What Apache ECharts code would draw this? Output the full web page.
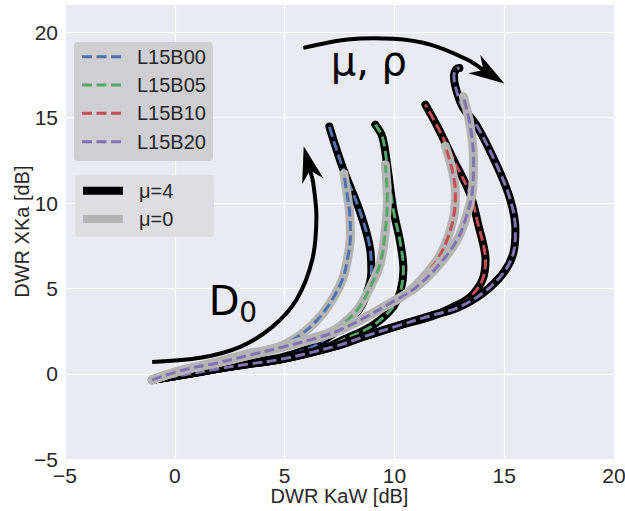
<!DOCTYPE html>
<html><head><meta charset="utf-8">
<script src="https://cdn.jsdelivr.net/npm/echarts@6/dist/echarts.min.js"></script>
<style>html,body{margin:0;padding:0;background:#fff}#c{width:625px;height:511px}</style>
</head><body><div id="c"></div>
<script>
// ---- axes / ticks ----
const xTicks = [-5, 0, 5, 10, 15, 20];
const yTicks = [-5, 0, 5, 10, 15, 20];
const xRange = [-5, 20];
const yRange = [-5, 21.65];

// ---- series names / colours ----
const names = ['L15B00', 'L15B05', 'L15B10', 'L15B20'];
const colors = ['#4C72B0', '#55A868', '#C44E52', '#8172B2'];

// ---- mu = 4 curves (black) ----
const mu4_B00 = [[-1.03,-0.35],[0.39,-0.06],[1.94,0.29],[3.44,0.64],[4.94,1.00],[6.17,1.52],[7.08,2.23],[7.77,2.87],[8.36,3.69],[8.72,4.63],[8.95,5.92],[8.90,7.26],[8.45,9.43],[7.68,11.95],[7.22,13.71],[7.04,14.47]];
const mu4_B05 = [[-1.03,-0.35],[0.39,-0.06],[1.94,0.29],[3.12,0.53],[4.94,0.88],[6.63,1.41],[7.86,2.11],[8.68,2.58],[9.36,3.16],[9.95,3.93],[10.27,4.80],[10.41,6.09],[10.27,7.67],[9.95,9.61],[9.68,12.13],[9.45,13.88],[9.13,14.59]];
const mu4_B10 = [[-1.03,-0.35],[0.39,-0.06],[1.94,0.29],[3.12,0.53],[4.94,0.88],[7.54,1.70],[8.59,2.17],[10.14,2.81],[11.64,3.34],[12.78,3.98],[13.46,4.51],[14.01,5.51],[14.15,6.68],[14.05,7.56],[13.83,8.67],[13.46,10.49],[12.69,12.54],[11.96,14.47],[11.41,15.76]];
const mu4_B20 = [[-1.03,-0.35],[0.39,-0.06],[1.94,0.29],[3.12,0.53],[4.94,0.88],[7.54,1.70],[8.59,2.17],[10.14,2.81],[11.64,3.40],[12.87,3.87],[14.05,4.75],[14.97,5.92],[15.42,7.09],[15.51,8.44],[15.28,10.19],[14.69,12.13],[13.78,14.47],[13.10,15.64],[12.78,16.81],[12.71,17.46],[12.82,17.84],[12.96,17.90]];

// ---- mu = 0 curves (grey) ----
const mu0_B00 = [[-1.03,-0.35],[0.39,0.23],[1.94,0.70],[3.30,1.17],[4.67,1.55],[5.72,2.28],[6.49,3.16],[7.08,4.16],[7.63,5.51],[7.86,6.68],[8.00,8.14],[7.95,9.61],[7.81,10.78],[7.70,11.72]];
const mu0_B05 = [[-1.03,-0.35],[0.39,0.23],[1.94,0.66],[3.44,1.14],[4.94,1.62],[6.17,2.05],[7.08,2.45],[7.54,2.80],[8.31,3.75],[8.91,5.10],[9.36,6.50],[9.59,8.44],[9.68,10.19],[9.59,12.24]];
const mu0_B10 = [[-1.03,-0.35],[0.39,0.23],[1.94,0.64],[3.44,1.11],[4.94,1.58],[6.49,2.11],[7.54,2.58],[8.60,3.26],[9.82,4.14],[10.60,4.75],[11.18,5.45],[11.95,6.68],[12.40,7.85],[12.70,9.21],[12.78,10.59],[12.63,11.95],[12.32,13.32]];
const mu0_B20 = [[-1.03,-0.35],[0.39,0.23],[1.94,0.64],[3.44,1.11],[4.94,1.58],[6.49,2.11],[7.54,2.58],[8.60,3.26],[9.82,4.14],[11.03,5.11],[12.10,6.49],[12.86,7.85],[13.23,9.02],[13.54,10.60],[13.60,12.54],[13.46,14.47],[13.14,16.23]];

// ---- annotations (data coordinates) ----
const arrowD0 = { shaft: [[-1.03,0.70],[1.16,0.94],[2.98,1.58],[4.44,2.75],[5.54,4.34],[6.26,6.68],[6.45,9.20],[6.30,11.2]], tip: [5.87,13.32] };
const arrowMuRho = { shaft: [[5.85,19.08],[7.86,19.57],[9.95,19.61],[11.64,19.27],[13.33,18.39]], tip: [15.01,16.99] };
const labelMuRho = { text: 'μ, ρ', pos: [7.1, 18.3], size: 40 };
const labelD = { text: 'D', pos: [1.55, 4.28], size: 40 };
const labelD0 = { text: '0', pos: [2.93, 3.60], size: 28 };

const FONT = "'Liberation Sans', Arial, sans-serif";
const MATHFONT = "'DejaVu Sans', sans-serif";
const INK = '#262626';
const GREY = '#B4B4B4';

const mu4 = [mu4_B00, mu4_B05, mu4_B10, mu4_B20];
const mu0 = [mu0_B00, mu0_B05, mu0_B10, mu0_B20];

function lineSeries(name, data, color, width, dashed, cap) {
  return {
    type: 'line', name: name, data: data, smooth: 0.35, showSymbol: false, symbol: 'none',
    silent: true, animation: false,
    lineStyle: { color: color, width: width, type: dashed ? [10, 4.5] : 'solid', cap: cap }
  };
}
const series = [];
for (let i = 0; i < 4; i++) {
  series.push(lineSeries('μ=4', mu4[i], '#000', 8, false, 'round'));
  series.push(lineSeries(names[i], mu4[i], colors[i], 3, true, 'butt'));
}
for (let i = 0; i < 4; i++) {
  series.push(lineSeries('μ=0', mu0[i], GREY, 9, false, 'round'));
  series.push(lineSeries(names[i], mu0[i], colors[i], 3, true, 'butt'));
}

const arrows = [arrowD0, arrowMuRho];
const labels = [labelMuRho, labelD, labelD0];

series.push({
  type: 'custom', silent: true, animation: false, z: 5,
  data: [[0], [1]],
  encode: { x: -1, y: -1 },
  renderItem: function (params, api) {
    const a = arrows[api.value(0)];
    const pts = a.shaft.map(p => api.coord(p));
    const tip = api.coord(a.tip);
    const last = pts[pts.length - 1];
    let dx = tip[0] - last[0], dy = tip[1] - last[1];
    const L = Math.hypot(dx, dy); dx /= L; dy /= L;
    const hl = 36, hw = 11, notch = 25;
    const nx = -dy, ny = dx;
    const base = [tip[0] - dx * hl, tip[1] - dy * hl];
    const nt = [tip[0] - dx * notch, tip[1] - dy * notch];
    const head = [tip, [base[0] + nx * hw, base[1] + ny * hw], nt, [base[0] - nx * hw, base[1] - ny * hw]];
    return { type: 'group', children: [
      { type: 'polyline', shape: { points: pts.concat([nt]), smooth: 0.3 }, style: { stroke: '#000', lineWidth: 4, fill: null } },
      { type: 'polygon', shape: { points: head }, style: { fill: '#000' } }
    ]};
  }
});
series.push({
  type: 'custom', silent: true, animation: false, z: 5,
  data: [[0], [1], [2]],
  encode: { x: -1, y: -1 },
  renderItem: function (params, api) {
    const l = labels[api.value(0)];
    const p = api.coord(l.pos);
    return { type: 'text', x: p[0], y: p[1], style: { text: l.text, fontSize: l.size, fontFamily: MATHFONT, fill: '#000', align: 'left', verticalAlign: 'middle' } };
  }
});

function fmt(v) { return v < 0 ? '\u2212' + Math.abs(v) : String(v); }

// ---- legends (graphic) ----
const graphic = [];
graphic.push({ type: 'rect', shape: { x: 74, y: 42, width: 139, height: 119, r: 4 }, style: { fill: '#CECED3' }, z: 10 });
for (let i = 0; i < 4; i++) {
  const y = 56.7 + 28.33 * i;
  graphic.push({ type: 'line', shape: { x1: 82, y1: y, x2: 122, y2: y }, style: { stroke: colors[i], lineWidth: 3, lineDash: [10, 4.5] }, z: 11 });
  graphic.push({ type: 'text', x: 137, y: y, style: { text: names[i], fontSize: 20, fontFamily: FONT, fill: INK, align: 'left', verticalAlign: 'middle' }, z: 11 });
}
graphic.push({ type: 'rect', shape: { x: 75, y: 175, width: 139, height: 62, r: 4 }, style: { fill: '#DDDDE2' }, z: 10 });
[['μ=4', '#000', 190.7], ['μ=0', GREY, 219]].forEach(function (e) {
  graphic.push({ type: 'line', shape: { x1: 83, y1: e[2], x2: 123, y2: e[2] }, style: { stroke: e[1], lineWidth: 8 }, z: 11 });
  graphic.push({ type: 'text', x: 139, y: e[2], style: { text: e[0], fontSize: 20, fontFamily: FONT, fill: INK, align: 'left', verticalAlign: 'middle' }, z: 11 });
});

const chart = echarts.init(document.getElementById('c'), null, { renderer: 'svg' });
chart.setOption({
  animation: false,
  backgroundColor: '#fff',
  grid: { left: 65, right: 11, top: 4, bottom: 51.7, show: true, backgroundColor: '#EAEAF2', borderWidth: 0, containLabel: false, outerBoundsMode: 'none' },
  xAxis: {
    type: 'value', min: xRange[0], max: xRange[1], interval: 5,
    name: 'DWR KaW [dB]', nameLocation: 'middle', nameGap: 27, nameMoveOverlap: false,
    nameTextStyle: { fontSize: 20, fontFamily: FONT, color: INK },
    axisLine: { show: false }, axisTick: { show: false },
    axisLabel: { fontSize: 21, fontFamily: FONT, color: INK, margin: 6, formatter: v => xTicks.includes(v) ? fmt(v) : '' },
    splitLine: { show: true, lineStyle: { color: '#fff', width: 1.2 } }
  },
  yAxis: {
    type: 'value', min: yRange[0], max: yRange[1], interval: 5,
    name: 'DWR XKa [dB]', nameLocation: 'middle', nameGap: 33, nameMoveOverlap: false,
    nameTextStyle: { fontSize: 20, fontFamily: FONT, color: INK },
    axisLine: { show: false }, axisTick: { show: false },
    axisLabel: { fontSize: 21, fontFamily: FONT, color: INK, margin: 7, showMaxLabel: false, formatter: v => yTicks.includes(v) ? fmt(v) : '' },
    splitLine: { show: true, lineStyle: { color: '#fff', width: 1.2 } }
  },
  graphic: graphic,
  series: series
});
</script></body></html>
